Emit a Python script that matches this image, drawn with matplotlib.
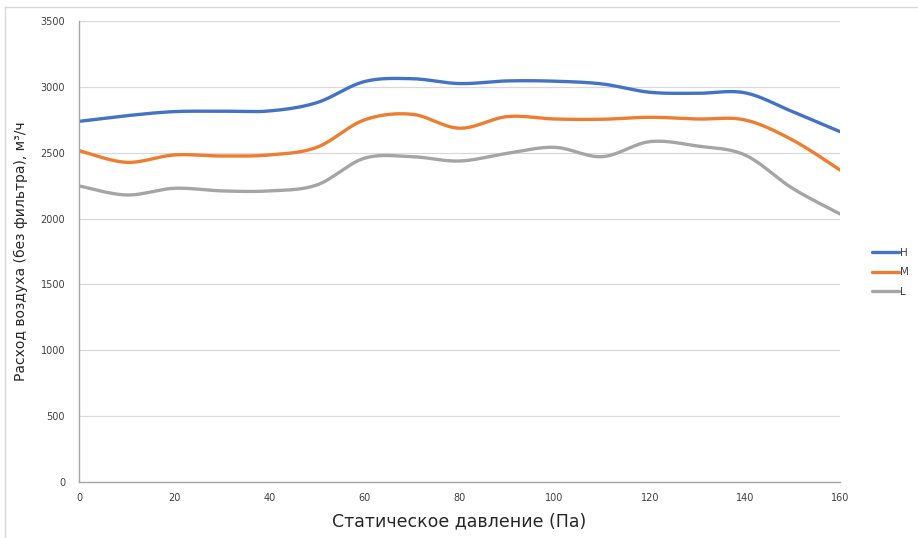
import numpy as np
import matplotlib
matplotlib.use("Agg")
import matplotlib.pyplot as plt
from matplotlib.lines import Line2D

pressure = [0, 10, 20, 30, 40, 50, 60, 70, 80, 90, 100, 110, 120, 130, 140, 150, 160]
flow_H = [2738, 2781, 2812, 2815, 2817, 2880, 3040, 3062, 3025, 3045, 3043, 3022, 2959, 2951, 2955, 2812, 2660]
flow_M = [2516, 2427, 2483, 2475, 2483, 2541, 2749, 2792, 2686, 2774, 2756, 2754, 2769, 2756, 2749, 2597, 2369]
flow_L = [2248, 2179, 2230, 2210, 2210, 2255, 2458, 2470, 2437, 2495, 2541, 2470, 2584, 2551, 2483, 2230, 2035]
series_names = ["H", "M", "L"]
x_ticks = [0, 20, 40, 60, 80, 100, 120, 140, 160]
y_ticks = [0, 500, 1000, 1500, 2000, 2500, 3000, 3500]


def smooth(xs, ys, n=30):
    """Excel-style smoothed line: Catmull-Rom cubic Bezier through points."""
    x = np.asarray(xs, float)
    y = np.asarray(ys, float)
    px = np.concatenate([[x[0]], x, [x[-1]]])
    py = np.concatenate([[y[0]], y, [y[-1]]])
    ox, oy = [], []
    t = np.linspace(0, 1, n, endpoint=False)
    for i in range(1, len(px) - 2):
        p0 = np.array([px[i], py[i]])
        p3 = np.array([px[i + 1], py[i + 1]])
        c1 = p0 + (np.array([px[i + 1], py[i + 1]]) - np.array([px[i - 1], py[i - 1]])) / 6
        c2 = p3 - (np.array([px[i + 2], py[i + 2]]) - np.array([px[i], py[i]])) / 6
        b = ((1 - t) ** 3)[:, None] * p0 + (3 * (1 - t) ** 2 * t)[:, None] * c1 \
            + (3 * (1 - t) * t ** 2)[:, None] * c2 + (t ** 3)[:, None] * p3
        ox.extend(b[:, 0]); oy.extend(b[:, 1])
    ox.append(x[-1]); oy.append(y[-1])
    return np.array(ox), np.array(oy)


fig = plt.figure(figsize=(9.18, 5.38), dpi=100)
ax = fig.add_axes([79 / 918, 1 - 482 / 538, (840 - 79) / 918, (482 - 21) / 538])

colors = ["#4472C4", "#ED7D31", "#A5A5A5"]
for name, vals, c in zip(series_names, [flow_H, flow_M, flow_L], colors):
    sx, sy = smooth(pressure, vals)
    ax.plot(sx, sy, color=c, lw=2.4, label=name, solid_capstyle="round")

ax.set_xlim(0, 160)
ax.set_ylim(0, 3500)
ax.set_xticks(x_ticks)
ax.set_yticks(y_ticks)
ax.tick_params(length=0, labelsize=7, colors="#404040", pad=8)
ax.tick_params(axis="y", pad=10)
ax.grid(axis="y", color="#D9D9D9", lw=0.9)
ax.set_axisbelow(True)
for s in ["top", "right"]:
    ax.spines[s].set_visible(False)
for s in ["left", "bottom"]:
    ax.spines[s].set_color("#A6A6A6")
    ax.spines[s].set_linewidth(1.0)

ax.set_xlabel("Статическое давление (Па)", fontsize=12.5, color="#262626", labelpad=7)
ax.set_ylabel("Расход воздуха (без фильтра), м³/ч", fontsize=10, color="#262626", labelpad=9)

leg = ax.legend(loc="center left", bbox_to_anchor=(1.03, 0.455), frameon=False,
                fontsize=7.5, handlelength=2.6, labelspacing=0.9, handletextpad=0.1,
                labelcolor="#404040")

fig.add_artist(Line2D([5 / 918, 1], [1 - 7 / 538, 1 - 7 / 538], color="#D9D9D9", lw=1))
fig.add_artist(Line2D([5 / 918, 5 / 918], [0, 1 - 7 / 538], color="#D9D9D9", lw=1))

fig.savefig("out.png", dpi=100)
